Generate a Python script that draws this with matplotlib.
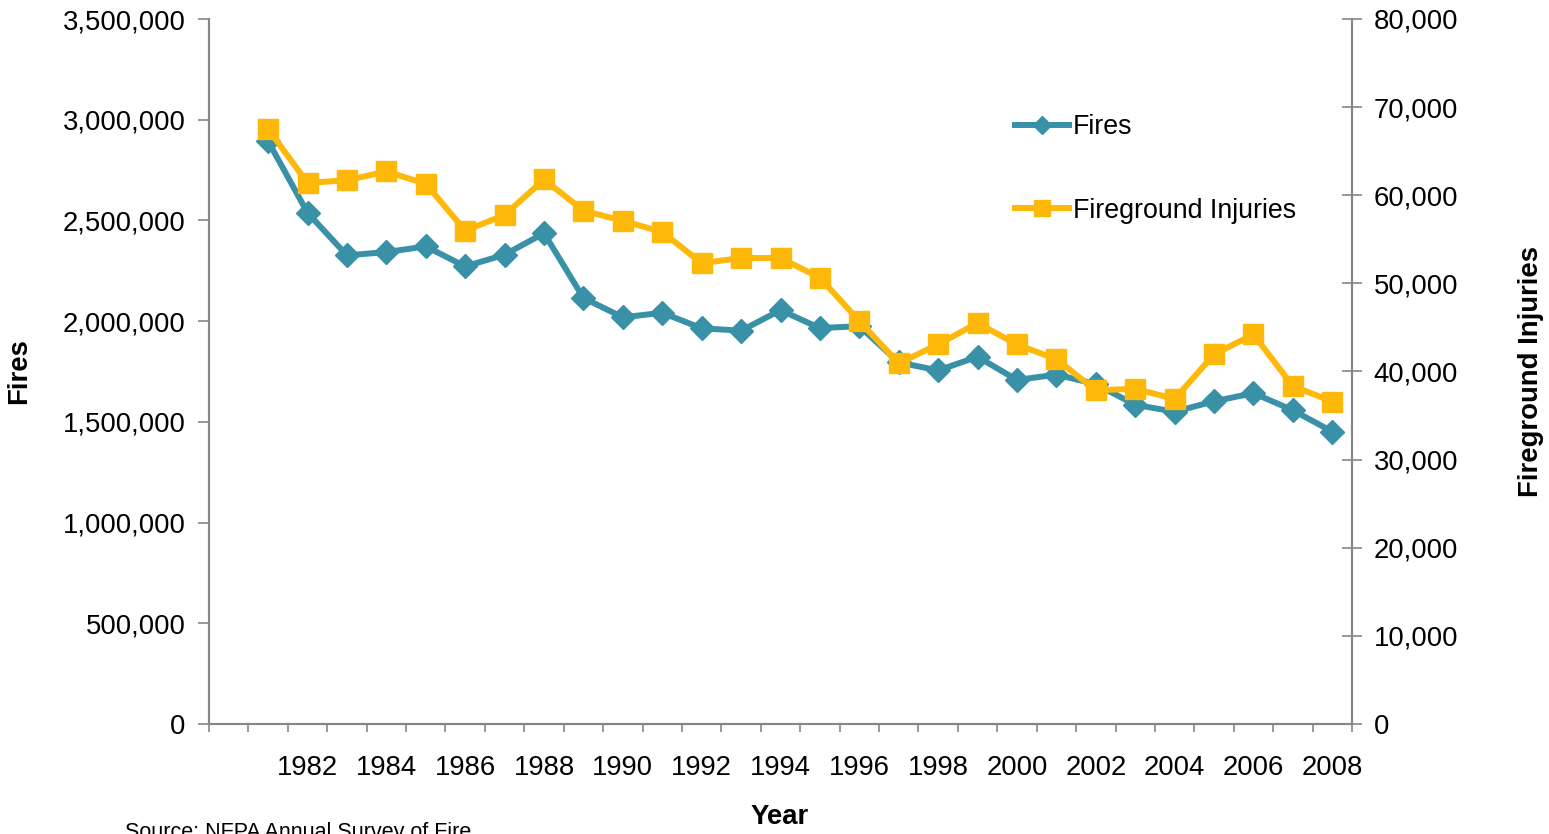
import numpy as np
import matplotlib
matplotlib.use("Agg")
import matplotlib.pyplot as plt
from matplotlib.ticker import FuncFormatter, FixedLocator

plt.rcParams["font.family"] = ["Liberation Sans", "DejaVu Sans"]

# data (NFPA)
years = list(range(1981, 2009))
fires = [2893500, 2538000, 2326500, 2343000, 2371000, 2271500, 2330000, 2436500,
         2115000, 2019000, 2041500, 1964500, 1952500, 2054500, 1965500, 1975000,
         1795000, 1755500, 1823000, 1708000, 1734500, 1687500, 1584500, 1550500,
         1602000, 1642500, 1557500, 1451500]
injuries = [67500, 61400, 61700, 62700, 61300, 55990, 57755, 61790,
            58250, 57100, 55830, 52290, 52885, 52875, 50640, 45725,
            40920, 43080, 45500, 43065, 41395, 37860, 38045, 36880,
            41950, 44210, 38340, 36595]
year_labels = list(range(1982, 2009, 2))

FIRES_COLOR = "#3891A7"
INJ_COLOR = "#FEB80A"
AXIS_GRAY = "#868686"
FS = 19.8

fig = plt.figure(figsize=(15.49, 8.34), dpi=100)
ax = fig.add_axes([209 / 1549, 1 - 724 / 834, (1352 - 209) / 1549, (724 - 19) / 834])
ax2 = ax.twinx()

l1, = ax.plot(years, fires, color=FIRES_COLOR, lw=4.3, marker="D", ms=12,
              mec=FIRES_COLOR, label="Fires", zorder=3)
l2, = ax2.plot(years, injuries, color=INJ_COLOR, lw=4.3, marker="s", ms=14.5,
               mec=INJ_COLOR, label="Fireground Injuries", zorder=3)

ax.set_xlim(1979.5, 2008.5)
ax.set_ylim(0, 3500000)
ax2.set_ylim(0, 80000)

ax.set_yticks(np.arange(0, 3500001, 500000))
ax2.set_yticks(np.arange(0, 80001, 10000))
ax.yaxis.set_major_formatter(FuncFormatter(lambda v, p: f"{int(v):,}"))
ax2.yaxis.set_major_formatter(FuncFormatter(lambda v, p: f"{int(v):,}"))

ax.xaxis.set_major_locator(FixedLocator(year_labels))
ax.xaxis.set_minor_locator(FixedLocator(np.arange(1979.5, 2009, 1)))
ax.tick_params(axis="x", which="major", length=0, pad=22, labelsize=FS)
ax.tick_params(axis="x", which="minor", direction="out", length=6, width=1.2, color=AXIS_GRAY)
ax.tick_params(axis="y", direction="out", length=8, width=1.2, color=AXIS_GRAY,
               labelsize=FS, pad=9)
ax2.tick_params(axis="y", direction="inout", length=15, width=1.2, color=AXIS_GRAY,
                labelsize=FS, pad=8)

for a in (ax, ax2):
    a.spines["top"].set_visible(False)
    for s in ("left", "right", "bottom"):
        a.spines[s].set_color(AXIS_GRAY)
        a.spines[s].set_linewidth(1.5)

ax.set_ylabel("Fires", fontsize=FS, fontweight="bold")
ax2.set_ylabel("Fireground Injuries", fontsize=FS, fontweight="bold")
ax.yaxis.set_label_coords(-0.155, 0.5)
ax2.yaxis.set_label_coords(1.1452, 0.5)
fig.text(780 / 1549, 1 - 817 / 834, "Year", fontsize=FS, fontweight="bold",
         ha="center", va="center")
fig.text(125 / 1549, 1 - 822 / 834, "Source: NFPA Annual Survey of Fire",
         fontsize=15.5, ha="left", va="top")

leg = ax2.legend(handles=[l1, l2], loc="upper left",
                 bbox_to_anchor=(1015 / 1549, 1 - 114 / 834),
                 bbox_transform=fig.transFigure, frameon=False, fontsize=19.3,
                 handlelength=2.0, handletextpad=0.15, labelspacing=2.15,
                 borderpad=0, borderaxespad=0, markerscale=0.75)

fig.savefig("out.png", dpi=100)
